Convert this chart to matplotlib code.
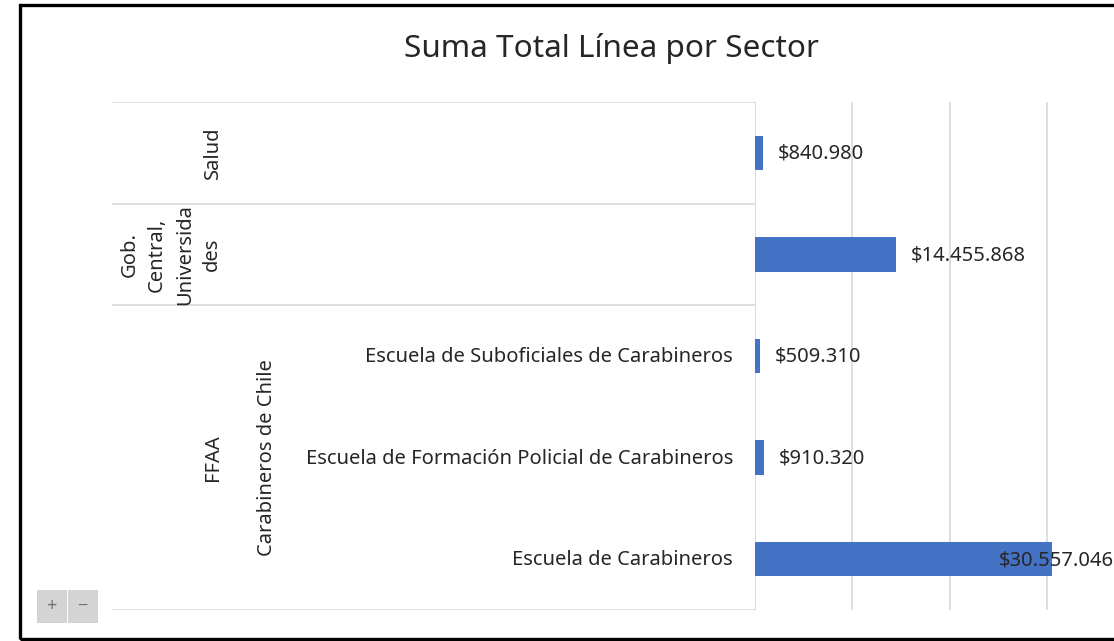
import matplotlib
matplotlib.use("Agg")
import matplotlib.pyplot as plt
from matplotlib.patches import Rectangle
import numpy as np

plt.rcParams['font.family'] = ['Noto Sans', 'DejaVu Sans']

# ---- data (top to bottom as shown) ----
sectors = ["Salud", "Gob.\nCentral,\nUniversida\ndes", "FFAA"]
sector_sizes = [1, 1, 3]
subsectors = ["", "", "Carabineros de Chile"]
institutions = ["", "",
                "Escuela de Suboficiales de Carabineros",
                "Escuela de Formación Policial de Carabineros",
                "Escuela de Carabineros"]
values = [840980, 14455868, 509310, 910320, 30557046]
value_labels = ["$840.980", "$14.455.868", "$509.310", "$910.320", "$30.557.046"]
title = "Suma Total Línea por Sector"

W, H = 1114, 641
fig = plt.figure(figsize=(W / 100, H / 100), dpi=100)
fig.patch.set_facecolor("white")

def fx(px):
    return px / W

def fy(py):
    return 1 - py / H

bar_color = "#4472C4"
grid_color = "#D9D9D9"
text_color = "#262626"
fs = 14.5

n = len(values)
ypos = np.arange(n)[::-1]  # first item at top

# ---- value axis ----
x0, x1, ytop, ybot = 755, 1114, 102, 610
ax = fig.add_axes([fx(x0), fy(ybot), fx(x1) - fx(x0), fy(ytop) - fy(ybot)])
ax.barh(ypos, values, height=0.34, color=bar_color, zorder=3)
ax.set_ylim(-0.5, n - 0.5)
ax.set_xlim(0, 36.9e6)
ax.set_xticks([0, 10e6, 20e6, 30e6])
ax.grid(axis="x", color=grid_color, linewidth=1.2, zorder=0)
ax.tick_params(left=False, bottom=False, labelleft=False, labelbottom=False)
for s in ax.spines.values():
    s.set_visible(False)
ax.axvline(0, color=grid_color, linewidth=1.2, zorder=1)

for y, v, lab in zip(ypos, values, value_labels):
    if v > 25e6:
        off = -54
    else:
        off = 15
    ax.annotate(lab, xy=(v, y), xytext=(off, -1), textcoords="offset pixels",
                ha="left", va="center", fontsize=fs, color=text_color,
                zorder=5, annotation_clip=False)

# ---- category axis area ----
lx0 = 112
lax = fig.add_axes([fx(lx0), fy(ybot), fx(x0) - fx(lx0), fy(ytop) - fy(ybot)])
lax.set_xlim(lx0, x0)
lax.set_ylim(-0.5, n - 0.5)
lax.axis("off")

# group boundaries
bounds = np.concatenate([[0], np.cumsum(sector_sizes)])
for b in bounds:
    yb = n - 0.5 - b
    lax.plot([lx0, x0], [yb, yb], color=grid_color, linewidth=1.2,
             solid_capstyle="butt")

# level 3 labels
for y, lab in zip(ypos, institutions):
    if lab:
        lax.annotate(lab, xy=(733, y), xytext=(0, -1), textcoords="offset pixels",
                     ha="right", va="center", fontsize=fs, color=text_color)

# level 1 and 2 labels
sector_x = [213, 171, 213]
for i, (sec, sub) in enumerate(zip(sectors, subsectors)):
    yc = n - 0.5 - (bounds[i] + bounds[i + 1]) / 2
    lax.text(sector_x[i], yc, sec, rotation=90, ha="center", va="center",
             fontsize=fs, color=text_color, multialignment="center",
             linespacing=1.5)
    if sub:
        lax.text(267, yc, sub, rotation=90, ha="center", va="center",
                 fontsize=fs, color=text_color)

# ---- title ----
fig.text(fx(612), fy(49), title, ha="center", va="center", fontsize=22.7,
         color=text_color)

# ---- zoom buttons ----
for bx, sym in [(37, "+"), (68, "\u2212")]:
    fig.patches.append(Rectangle((fx(bx), fy(622)), fx(29), fy(590) - fy(622),
                                 transform=fig.transFigure,
                                 facecolor="#D4D4D4", edgecolor="#C8C8C8",
                                 linewidth=0.5))
    fig.text(fx(bx + 14.5), fy(606), sym, ha="center", va="center",
             fontsize=13, color="#6F6F6F")

# ---- outer border ----
fig.patches.append(Rectangle((fx(20), fy(639)), fx(1200), fy(5) - fy(639),
                             transform=fig.transFigure, fill=False,
                             edgecolor="black", linewidth=2.4, zorder=10))

fig.savefig("out.png", dpi=100, facecolor="white")
